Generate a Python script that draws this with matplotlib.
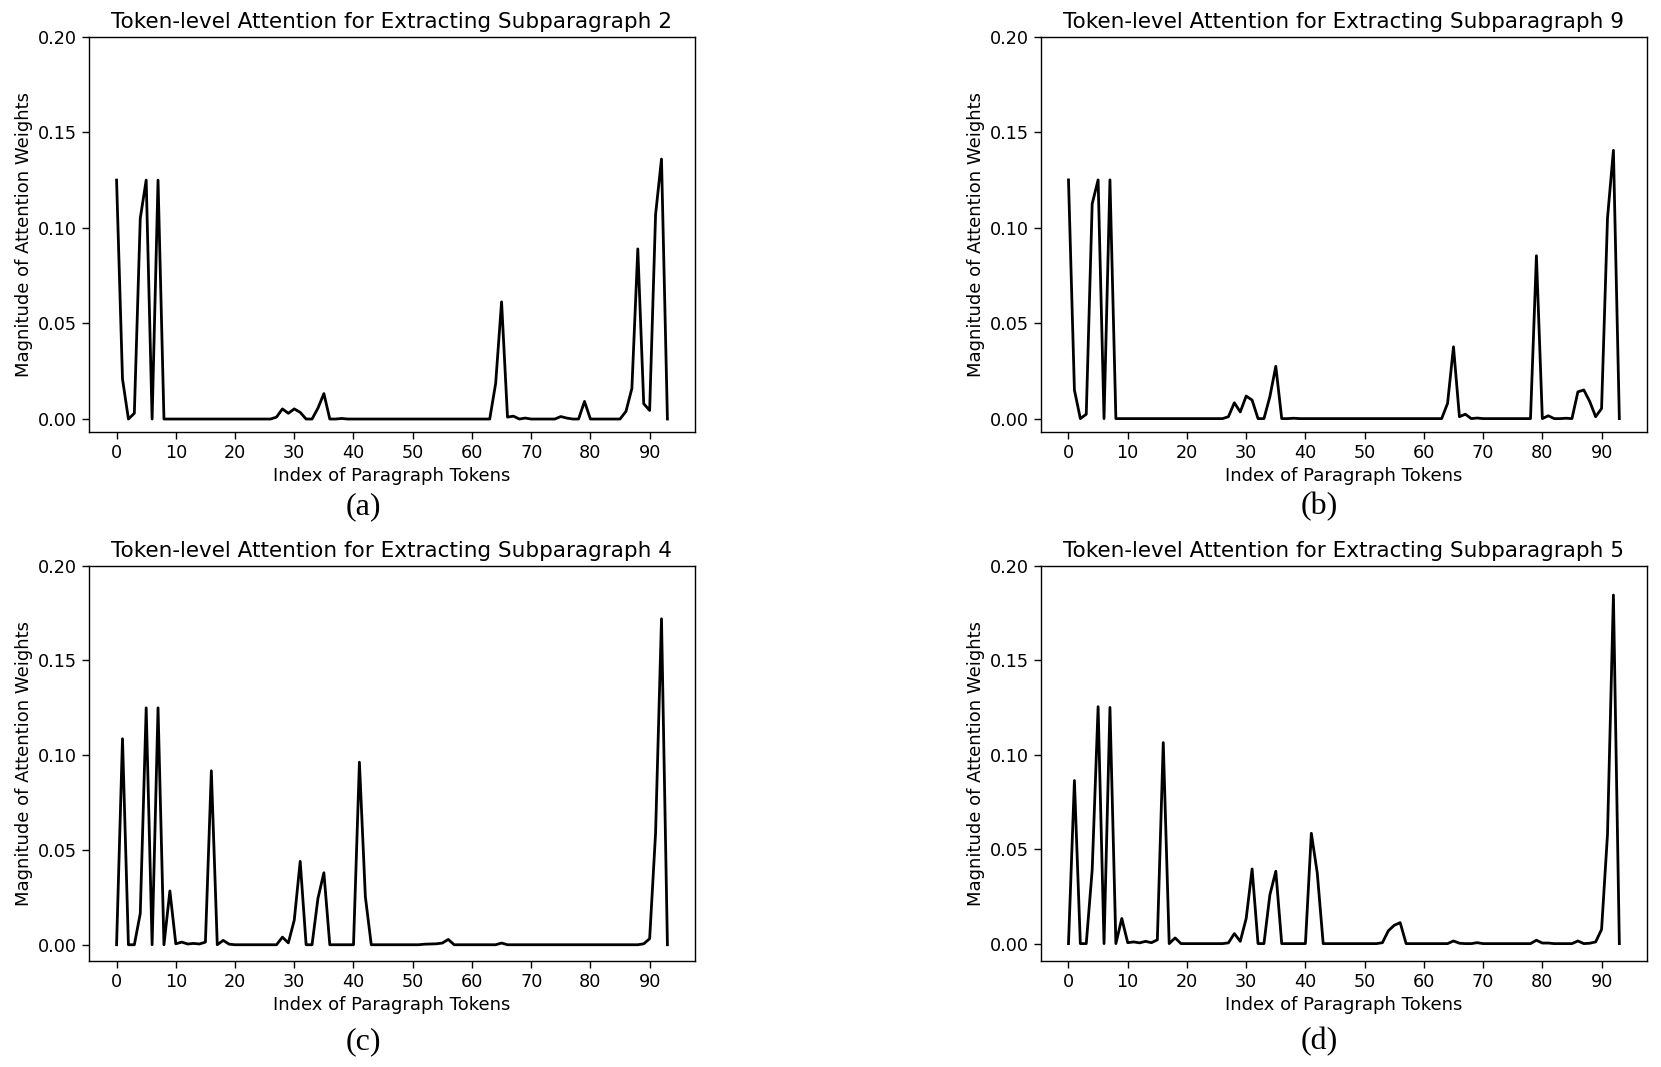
import numpy as np
import matplotlib
matplotlib.use("Agg")
import matplotlib.pyplot as plt

# token index 0..93
tokens = np.arange(94)

# attention weights (mostly zero, so only the non-zero tokens are listed)
sub2_idx = [0, 1, 3, 4, 5, 7, 27, 28, 29, 30, 31, 34, 35, 38, 64, 65, 66, 67, 69,
            75, 76, 79, 86, 87, 88, 89, 90, 91, 92]
sub2_val = [0.125, 0.021, 0.003, 0.105, 0.125, 0.125, 0.001, 0.0053, 0.003, 0.0053, 0.0035,
            0.0057, 0.0133, 0.0003, 0.0186, 0.0613, 0.001, 0.0015, 0.0005,
            0.0013, 0.0005, 0.0092, 0.004, 0.016, 0.089, 0.008, 0.0045, 0.107, 0.136]

sub9_idx = [0, 1, 3, 4, 5, 7, 27, 28, 29, 30, 31, 34, 35, 38, 64, 65, 66, 67, 69,
            79, 81, 84, 86, 87, 88, 89, 90, 91, 92]
sub9_val = [0.125, 0.015, 0.0023, 0.1125, 0.125, 0.125, 0.001, 0.0083, 0.0035, 0.0118, 0.0097,
            0.0115, 0.0274, 0.0002, 0.008, 0.0376, 0.001, 0.0023, 0.0003,
            0.0853, 0.0015, 0.0002, 0.014, 0.015, 0.009, 0.001, 0.0053, 0.105, 0.1405]

sub4_idx = [1, 4, 5, 7, 9, 10, 11, 12, 13, 14, 15, 16, 18, 19, 28, 29, 30, 31, 34, 35,
            41, 42, 52, 53, 54, 55, 56, 65, 89, 90, 91, 92]
sub4_val = [0.1087, 0.0165, 0.125, 0.125, 0.0284, 0.0005, 0.0014, 0.0004, 0.0007, 0.0004,
            0.0014, 0.0918, 0.0023, 0.0003, 0.004, 0.001, 0.013, 0.044, 0.0245, 0.038,
            0.0963, 0.0254, 0.0003, 0.0004, 0.0005, 0.0009, 0.0028, 0.0009, 0.0005, 0.0032,
            0.059, 0.172]

sub5_idx = [1, 4, 5, 7, 9, 10, 11, 12, 13, 14, 15, 16, 18, 27, 28, 29, 30, 31, 34, 35,
            41, 42, 53, 54, 55, 56, 65, 66, 69, 79, 80, 81, 86, 88, 89, 90, 91, 92]
sub5_val = [0.0863, 0.039, 0.1254, 0.125, 0.0133, 0.0005, 0.0009, 0.0004, 0.0012, 0.0005,
            0.002, 0.1064, 0.003, 0.0004, 0.0053, 0.0012, 0.0133, 0.0395, 0.0258, 0.0383,
            0.0584, 0.0374, 0.0005, 0.0068, 0.0097, 0.0111, 0.0014, 0.0002, 0.0005, 0.0018,
            0.0003, 0.0003, 0.0014, 0.0002, 0.0009, 0.0075, 0.0578, 0.1845]

subparagraphs = [2, 9, 4, 5]
panel_tags = ["(a)", "(b)", "(c)", "(d)"]


def dense(idx, val):
    w = np.zeros(len(tokens))
    w[idx] = val
    return w


weights = [dense(sub2_idx, sub2_val), dense(sub9_idx, sub9_val),
           dense(sub4_idx, sub4_val), dense(sub5_idx, sub5_val)]

fig = plt.figure(figsize=(16.61, 10.67), dpi=100, facecolor='white')

# axes boxes in figure fractions: left / right column, top / bottom row
col_x = [0.0536, 0.6267]
row_y = [0.5951, 0.0993]
ax_w, ax_h = 0.3648, 0.3705
tag_x = [0.2185, 0.7945]
tag_y = [0.5248, 0.0234]

for k in range(4):
    r, c = divmod(k, 2)
    ax = fig.add_axes([col_x[c], row_y[r], ax_w, ax_h])
    ax.plot(tokens, weights[k], color='black', linewidth=2.0)
    ax.set_ylim(top=0.2)
    ax.set_yticks([0.0, 0.05, 0.10, 0.15, 0.20])
    ax.set_xticks(np.arange(0, 91, 10))
    ax.tick_params(labelsize=12.7, width=1.0, length=5)
    for s in ax.spines.values():
        s.set_linewidth(1.0)
    ax.set_title("Token-level Attention for Extracting Subparagraph %d" % subparagraphs[k],
                 fontsize=15.5)
    ax.set_xlabel("Index of Paragraph Tokens", fontsize=13)
    ax.set_ylabel("Magnitude of Attention Weights", fontsize=13)
    fig.text(tag_x[c], tag_y[r], panel_tags[k], fontsize=23,
             family='Liberation Serif', ha='center', va='center')

plt.savefig("out.png", dpi=100, facecolor='white')
